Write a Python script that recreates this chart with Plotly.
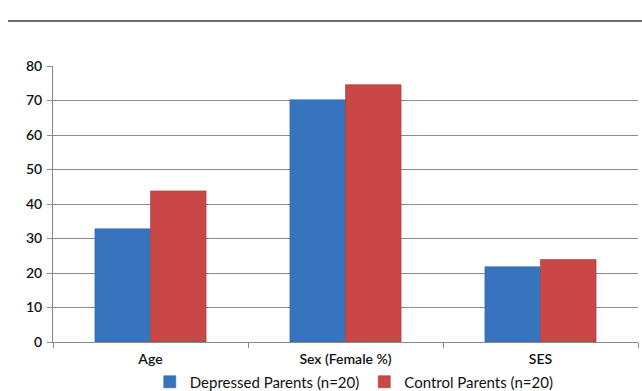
import plotly.graph_objects as go

categories = ["Age", "Sex (Female %)", "SES"]
depressed = [32.8, 70.2, 21.8]
control = [43.8, 74.6, 23.9]
y_ticks = [0, 10, 20, 30, 40, 50, 60, 70, 80]

blue = "#3874BD"
red = "#C94747"

fig = go.Figure()
fig.add_trace(go.Bar(name="Depressed Parents (n=20)", x=categories, y=depressed,
                     marker=dict(color=blue, line=dict(color="#2F64A6", width=0.6))))
fig.add_trace(go.Bar(name="Control Parents (n=20)", x=categories, y=control,
                     marker=dict(color=red, line=dict(color="#A93A3A", width=0.6))))

fig.update_layout(
    width=642, height=391,
    margin=dict(l=53, r=4, t=66, b=49, autoexpand=False),
    paper_bgcolor="white", plot_bgcolor="white",
    barmode="group", bargap=0.43, bargroupgap=0,
    font=dict(family="Lato", size=13, color="#1a1a1a"),
    showlegend=True,
    legend=dict(orientation="h", x=0.515, xanchor="center", xref="paper",
                y=9 / 391, yanchor="middle", yref="container",
                bgcolor="rgba(0,0,0,0)",
                font=dict(size=15, color="#111111"), itemwidth=30,
                traceorder="normal"),
    shapes=[dict(type="line", xref="paper", yref="paper", x0=-0.077, x1=1.01,
                 y0=1.163, y1=1.163, line=dict(color="#6e6e6e", width=2))],
)
fig.update_xaxes(showgrid=False, showline=True, linecolor="#8a8a8a", linewidth=1,
                 ticks="outside", tickson="boundaries", ticklen=5, tickcolor="#8a8a8a",
                 automargin=False, ticklabelstandoff=4,
                 tickfont=dict(size=14, color="#111111", weight=600))
fig.update_yaxes(range=[0, 80], tickvals=y_ticks, showgrid=True, gridcolor="#8c8c8c",
                 gridwidth=1, showline=True, linecolor="#8a8a8a", linewidth=1,
                 ticks="outside", ticklen=5, tickcolor="#8a8a8a", zeroline=False,
                 automargin=False, ticklabelstandoff=2,
                 tickfont=dict(size=14, color="#111111", weight=600))

fig.write_html("out.html")
